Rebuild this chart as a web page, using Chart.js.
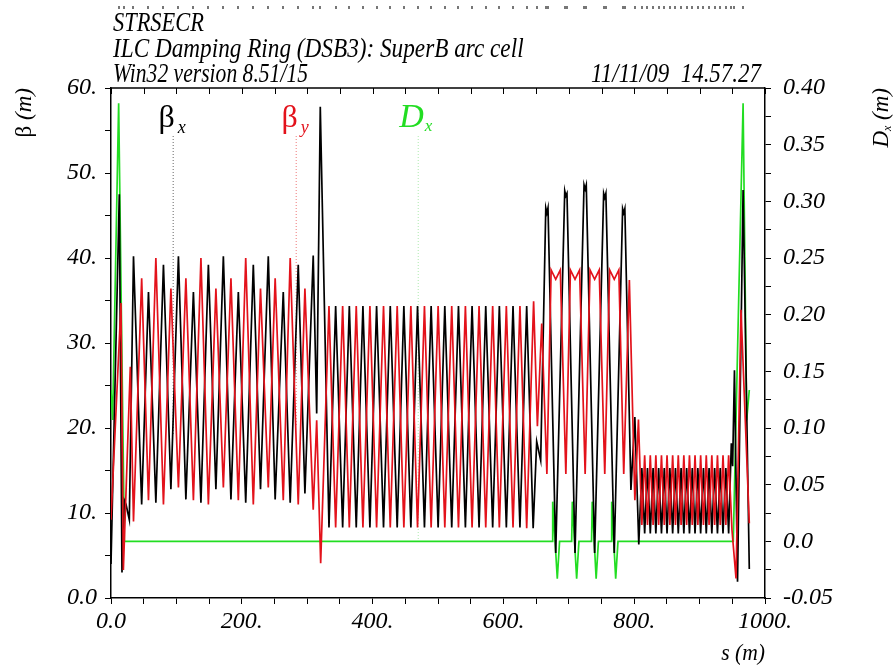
<!DOCTYPE html>
<html>
<head>
<meta charset="utf-8">
<title>STRSECR - SuperB arc cell</title>
<script src="https://cdn.jsdelivr.net/npm/chart.js@4.4.1/dist/chart.umd.min.js"></script>
<style>
  html, body { margin: 0; padding: 0; background: #fff; }
  #wrap { width: 894px; height: 666px; }
</style>
</head>
<body>
<div id="wrap"><canvas id="opticaChart" width="894" height="666"></canvas></div>
<script>
// [s (m), beta_x (m)]
const betaX = [
    [0, 4.0], [12.7, 47.5], [16.8, 3.0], [20.4, 11.5], [23.0, 11.0], [28.0, 9.2],
    [34.4, 40.2], [46.9, 11.0], [57.3, 36.0], [68.6, 11.2], [80.2, 39.2], [91.6, 12.8],
    [103.1, 40.2], [114.5, 11.6], [126.0, 36.0], [137.5, 11.2], [148.9, 39.2], [160.4, 12.8],
    [171.8, 40.2], [183.4, 11.6], [194.7, 36.0], [206.0, 11.2], [217.6, 39.2], [228.6, 12.8],
    [240.5, 40.2], [251.0, 11.6], [263.4, 36.0], [274.0, 11.2], [286.3, 39.2], [296.5, 12.3],
    [309.2, 40.3], [314.5, 21.7], [320.0, 57.8], [333.3, 8.3],
    [343.5, 34.35], [354.2, 8.3], [364.4, 34.35], [375.0, 8.3], [385.2, 34.35], [395.9, 8.3],
    [406.1, 34.35], [416.7, 8.3], [427.0, 34.35], [437.6, 8.3], [447.8, 34.35], [458.5, 8.3],
    [468.7, 34.35], [479.3, 8.3], [489.5, 34.35], [500.2, 8.3], [510.4, 34.35], [521.0, 8.3],
    [531.3, 34.35], [541.9, 8.3], [552.1, 34.35], [562.8, 8.3], [573.0, 34.35], [583.6, 8.3],
    [593.8, 34.35], [604.5, 8.3], [614.7, 34.35], [625.3, 8.3], [635.6, 34.35], [645.5, 8.2],
    [650.9, 18.4], [657.0, 16.2],
    [664.8, 45.9], [666.5, 45.3], [668.2, 45.9], [680.0, 5.3],
    [693.8, 47.9], [695.5, 47.3], [697.2, 47.6], [709.5, 5.3],
    [723.3, 48.6], [725.0, 48.1], [726.7, 48.6], [739.5, 5.3],
    [753.3, 47.6], [755.0, 47.1], [756.7, 47.6], [769.5, 5.3],
    [782.3, 45.8], [784.0, 45.3], [785.7, 45.8], [795.0, 12.7], [801.0, 21.3], [807.0, 6.3],
    [811.7, 15.3], [816.0, 7.6], [820.3, 15.3], [824.6, 7.6], [828.9, 15.3], [833.1, 7.6],
    [837.4, 15.3], [841.7, 7.6], [846.0, 15.3], [850.2, 7.6], [854.5, 15.3], [858.8, 7.6],
    [863.1, 15.3], [867.4, 7.6], [871.7, 15.3], [875.9, 7.6], [880.2, 15.3], [884.5, 7.6],
    [888.8, 15.3], [893.0, 7.6], [897.3, 15.3], [901.6, 7.6], [905.9, 15.3], [910.2, 7.6],
    [914.5, 15.3], [918.7, 7.6], [923.0, 15.3], [927.3, 7.6], [931.6, 15.3], [935.8, 7.6],
    [940.1, 15.3], [944.4, 7.6], [948.5, 18.2], [950.5, 15.5], [953.3, 26.8], [958.0, 1.9],
    [966.5, 48.0], [976.0, 3.4]
];

// [s (m), beta_y (m)]
const betaY = [
    [0, 9.2], [15.3, 34.7], [18.9, 3.3], [29.5, 27.2], [34.4, 9.0],
    [46.9, 37.6], [57.3, 11.5], [68.6, 40.0], [80.2, 11.0], [91.6, 36.4], [103.1, 13.0],
    [114.5, 37.6], [126.0, 11.5], [137.5, 40.0], [148.9, 11.0], [160.4, 36.4], [171.8, 13.0],
    [183.4, 37.6], [194.7, 11.5], [206.0, 40.0], [217.6, 11.0], [228.6, 36.4], [240.5, 13.0],
    [251.0, 37.6], [263.4, 11.5], [274.0, 40.0], [286.3, 11.0], [296.5, 36.4], [309.2, 10.4],
    [314.5, 20.9], [320.6, 4.1],
    [333.3, 34.35], [343.5, 8.3], [354.2, 34.35], [364.4, 8.3], [375.0, 34.35], [385.2, 8.3],
    [395.9, 34.35], [406.1, 8.3], [416.7, 34.35], [427.0, 8.3], [437.6, 34.35], [447.8, 8.3],
    [458.5, 34.35], [468.7, 8.3], [479.3, 34.35], [489.5, 8.3], [500.2, 34.35], [510.4, 8.3],
    [521.0, 34.35], [531.3, 8.3], [541.9, 34.35], [552.1, 8.3], [562.8, 34.35], [573.0, 8.3],
    [583.6, 34.35], [593.8, 8.3], [604.5, 34.35], [614.7, 8.3], [625.3, 34.35], [635.6, 8.2],
    [646.2, 34.9], [652.0, 20.2], [658.6, 32.3],
    [666.5, 14.6], [673.0, 38.6], [680.0, 37.5], [687.0, 38.6],
    [695.5, 14.6], [702.5, 38.6], [709.5, 37.5], [716.5, 38.6],
    [725.0, 14.6], [732.5, 38.6], [739.5, 37.5], [746.5, 38.6],
    [755.0, 14.6], [762.5, 38.6], [769.5, 37.5], [776.5, 38.6],
    [784.0, 14.6], [792.6, 37.4], [801.0, 11.5], [806.5, 21.0],
    [811.7, 8.6], [816.0, 16.8], [820.3, 8.6], [824.6, 16.8], [828.9, 8.6], [833.1, 16.8],
    [837.4, 8.6], [841.7, 16.8], [846.0, 8.6], [850.2, 16.8], [854.5, 8.6], [858.8, 16.8],
    [863.1, 8.6], [867.4, 16.8], [871.7, 8.6], [875.9, 16.8], [880.2, 8.6], [884.5, 16.8],
    [888.8, 8.6], [893.0, 16.8], [897.3, 8.6], [901.6, 16.8], [905.9, 8.6], [910.2, 16.8],
    [914.5, 8.6], [918.7, 16.8], [923.0, 8.6], [927.3, 16.8], [931.6, 8.6], [935.8, 16.8],
    [940.1, 8.6], [944.4, 16.8], [949.5, 8.0], [955.7, 2.3], [963.3, 33.9], [976.0, 8.8]
];

// [s (m), D_x (m)]
const dispX = [
    [0, 0.1335], [2.5, 0.107], [11.7, 0.3865], [20.4, 0.0],
    [674.4, 0.0], [675.4, 0.035], [682.4, -0.033], [685.9, 0.0],
    [704.4, 0.0], [705.4, 0.035], [712.0, -0.033], [715.5, 0.0],
    [734.8, 0.0], [735.8, 0.035], [741.8, -0.033], [745.3, 0.0],
    [764.6, 0.0], [765.6, 0.035], [771.7, -0.033], [775.2, 0.0],
    [951.5, 0.0], [966.5, 0.3865], [972.0, 0.107], [976.0, 0.1335]
];

const sLabels = ['0.0', '200.', '400.', '600.', '800.', '1000.'];
const betaLabels = ['0.0', '10.', '20.', '30.', '40.', '50.', '60.'];
const dispLabels = ['-0.05', '0.0', '0.05', '0.10', '0.15', '0.20', '0.25', '0.30', '0.35', '0.40'];

const cabecera = ['STRSECR', 'ILC Damping Ring (DSB3): SuperB arc cell', 'Win32 version 8.51/15'];
const fechaHora = '11/11/09  14.57.27';

// etiquetas de curva con su linea guia (s donde cae la guia)
const rotulos = [
    { simbolo: '\u03B2', sub: 'x', s: 94.3, serie: betaX, eje: 'y', color: '#000', guia: '#666' },
    { simbolo: '\u03B2', sub: 'y', s: 282.4, serie: betaY, eje: 'y', color: '#e3121b', guia: '#e77' },
    { simbolo: 'D', sub: 'x', s: 469.0, serie: dispX, eje: 'y1', color: '#22dd22', guia: '#aeeaae' }
];

const NEGRO = '#000';
const ROJO = '#e3121b';
const VERDE = '#22dd22';
const SERIF = '"Liberation Serif", "Times New Roman", serif';

const aPuntos = serie => serie.map(([s, v]) => ({ x: s, y: v }));

const valorEn = (serie, s) => {
    for (let i = 1; i < serie.length; i++) {
        if (serie[i][0] >= s) {
            const [s0, v0] = serie[i - 1];
            const [s1, v1] = serie[i];
            return v0 + (v1 - v0) * (s - s0) / (s1 - s0);
        }
    }
    return serie[serie.length - 1][1];
};

// texto estrecho (la fuente del trazador es condensada)
const textoEstrecho = (ctx, texto, x, y, escala) => {
    ctx.save();
    ctx.translate(x, y);
    ctx.scale(escala, 1);
    ctx.fillText(texto, 0, 0);
    ctx.restore();
};

const marcoPlugin = {
    id: 'marco',
    beforeDatasetsDraw(chart) {
        const { ctx, scales } = chart;
        ctx.save();
        ctx.lineWidth = 1;
        ctx.setLineDash([1, 2]);
        rotulos.forEach(r => {
            const px = scales.x.getPixelForValue(r.s);
            const py = scales[r.eje].getPixelForValue(valorEn(r.serie, r.s));
            ctx.strokeStyle = r.guia;
            ctx.beginPath();
            ctx.moveTo(px + 0.5, 136);
            ctx.lineTo(px + 0.5, py);
            ctx.stroke();
        });
        ctx.restore();
    },
    afterDraw(chart) {
        const { ctx, chartArea: a, scales: { x } } = chart;
        ctx.save();

        // borde superior con marcas hacia dentro
        ctx.strokeStyle = NEGRO;
        ctx.lineWidth = 1.5;
        ctx.beginPath();
        ctx.moveTo(a.left, a.top);
        ctx.lineTo(a.right, a.top);
        ctx.stroke();
        ctx.lineWidth = 1;
        x.ticks.forEach(t => {
            const px = Math.round(x.getPixelForValue(t.value)) + 0.5;
            ctx.beginPath();
            ctx.moveTo(px, a.top);
            ctx.lineTo(px, a.top + 6);
            ctx.stroke();
        });

        // sinoptico de cuadrupolos (maximos de beta_x)
        ctx.fillStyle = '#777';
        for (let i = 1; i < betaX.length - 1; i++) {
            if (betaX[i][1] > betaX[i - 1][1] && betaX[i][1] > betaX[i + 1][1]) {
                const px = Math.round(x.getPixelForValue(betaX[i][0]));
                ctx.fillRect(px - 1, 6, 2, 3);
            }
        }

        // cabecera
        ctx.fillStyle = NEGRO;
        ctx.font = `italic 27px ${SERIF}`;
        ctx.textAlign = 'left';
        ctx.textBaseline = 'alphabetic';
        textoEstrecho(ctx, cabecera[0], 113, 31, 0.83);
        textoEstrecho(ctx, cabecera[1], 113, 57, 0.86);
        textoEstrecho(ctx, cabecera[2], 113, 82, 0.8);
        ctx.textAlign = 'right';
        textoEstrecho(ctx, fechaHora, 761, 82, 0.85);

        // titulo eje s
        ctx.font = `italic 24px ${SERIF}`;
        textoEstrecho(ctx, 's (m)', 765, 660, 0.9);

        // titulo eje beta (girado)
        ctx.save();
        ctx.translate(31, 88);
        ctx.rotate(-Math.PI / 2);
        ctx.textAlign = 'left';
        ctx.font = `23px ${SERIF}`;
        const wB = ctx.measureText('\u03B2 ').width;
        ctx.font = `italic 23px ${SERIF}`;
        const wM = ctx.measureText('(m)').width;
        ctx.font = `23px ${SERIF}`;
        ctx.fillText('\u03B2 ', -(wB + wM), 0);
        ctx.font = `italic 23px ${SERIF}`;
        ctx.fillText('(m)', -wM, 0);
        ctx.restore();

        // titulo eje D (girado)
        ctx.save();
        ctx.translate(888, 88);
        ctx.rotate(-Math.PI / 2);
        ctx.textAlign = 'left';
        ctx.font = `italic 23px ${SERIF}`;
        const wD = ctx.measureText('D').width;
        const wR = ctx.measureText(' (m)').width;
        ctx.font = `italic 12px ${SERIF}`;
        const wX = ctx.measureText('x').width;
        const x0 = -(wD + wX + wR);
        ctx.font = `italic 23px ${SERIF}`;
        ctx.fillText('D', x0, 0);
        ctx.font = `italic 12px ${SERIF}`;
        ctx.fillText('x', x0 + wD, 3);
        ctx.font = `italic 23px ${SERIF}`;
        ctx.fillText(' (m)', x0 + wD + wX, 0);
        ctx.restore();

        // rotulos de curvas
        rotulos.forEach(r => {
            const px = x.getPixelForValue(r.s);
            ctx.fillStyle = r.color;
            ctx.textAlign = 'right';
            if (r.simbolo === 'D') {
                ctx.font = `italic 34px ${SERIF}`;
                ctx.fillText(r.simbolo, px + 6, 127);
                ctx.textAlign = 'left';
                ctx.font = `italic 17px ${SERIF}`;
                ctx.fillText(r.sub, px + 7, 131);
            } else {
                ctx.font = `32px ${SERIF}`;
                ctx.fillText(r.simbolo, px + 2, 127);
                ctx.textAlign = 'left';
                ctx.font = `italic 18px ${SERIF}`;
                ctx.fillText(r.sub, px + 5, 133);
            }
        });

        ctx.restore();
    }
};

const tickFont = { family: SERIF, style: 'italic', size: 24 };

const ctx = document.getElementById('opticaChart').getContext('2d');
new Chart(ctx, {
    type: 'line',
    data: {
        datasets: [
            {
                label: 'beta_y',
                data: aPuntos(betaY),
                yAxisID: 'y',
                borderColor: ROJO,
                borderWidth: 1.7,
                pointRadius: 0,
                tension: 0,
                order: 0
            },
            {
                label: 'beta_x',
                data: aPuntos(betaX),
                yAxisID: 'y',
                borderColor: NEGRO,
                borderWidth: 1.7,
                pointRadius: 0,
                tension: 0,
                order: 1
            },
            {
                label: 'D_x',
                data: aPuntos(dispX),
                yAxisID: 'y1',
                borderColor: VERDE,
                borderWidth: 1.7,
                pointRadius: 0,
                tension: 0,
                order: 2
            }
        ]
    },
    options: {
        responsive: false,
        animation: false,
        layout: { padding: { top: 88, left: 0, right: 0, bottom: 0 } },
        plugins: {
            legend: { display: false },
            title: { display: false },
            tooltip: { enabled: false }
        },
        scales: {
            x: {
                type: 'linear',
                position: 'bottom',
                min: 0,
                max: 1000,
                afterFit: scale => { scale.height = 68; },
                border: { color: NEGRO, width: 1.5 },
                grid: { drawOnChartArea: false, drawTicks: true, tickLength: 6, tickColor: NEGRO, tickWidth: 1 },
                ticks: {
                    stepSize: 50,
                    autoSkip: false,
                    maxRotation: 0,
                    padding: 3,
                    color: NEGRO,
                    font: tickFont,
                    callback: v => (v % 200 === 0 ? sLabels[v / 200] : '')
                }
            },
            y: {
                type: 'linear',
                position: 'left',
                min: 0,
                max: 60,
                afterFit: scale => { scale.width = 111; },
                border: { color: NEGRO, width: 1.5 },
                grid: { drawOnChartArea: false, drawTicks: true, tickLength: 6, tickColor: NEGRO, tickWidth: 1 },
                ticks: {
                    stepSize: 5,
                    autoSkip: false,
                    padding: 8,
                    color: NEGRO,
                    font: tickFont,
                    callback: v => (v % 10 === 0 ? betaLabels[v / 10] : '')
                }
            },
            y1: {
                type: 'linear',
                position: 'right',
                min: -0.05,
                max: 0.40,
                afterFit: scale => { scale.width = 129; },
                border: { color: NEGRO, width: 1.5 },
                grid: { drawOnChartArea: false, drawTicks: true, tickLength: 6, tickColor: NEGRO, tickWidth: 1 },
                ticks: {
                    stepSize: 0.025,
                    autoSkip: false,
                    padding: 12,
                    color: NEGRO,
                    font: tickFont,
                    callback: v => {
                        const k = Math.round((v + 0.05) / 0.025);
                        return k % 2 === 0 ? dispLabels[k / 2] : '';
                    }
                }
            }
        }
    },
    plugins: [marcoPlugin]
});
</script>
</body>
</html>
